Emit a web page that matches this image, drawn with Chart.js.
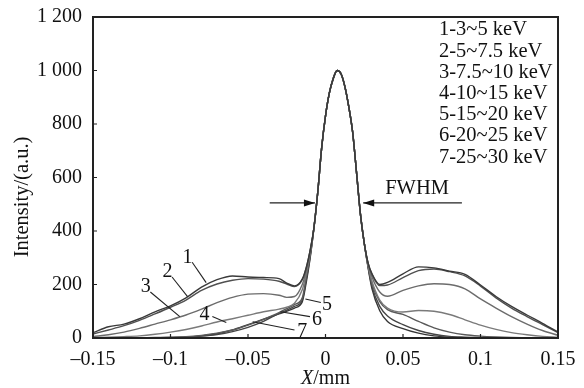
<!DOCTYPE html>
<html>
<head>
<meta charset="utf-8">
<script src="https://cdn.jsdelivr.net/npm/chart.js@4/dist/chart.umd.min.js"></script>
<style>
  html, body { margin: 0; padding: 0; background: #fff; }
  #wrap { width: 584px; height: 388px; }
</style>
</head>
<body>
<div id="wrap"><canvas id="myChart" width="584" height="388"></canvas></div>
<script>
// X positions (mm) shared by every curve
var xValues = [-0.15,-0.14,-0.13,-0.12,-0.11,-0.1,-0.09,-0.08,-0.07,-0.06,-0.05,-0.04,-0.03,-0.025,-0.02,-0.015,-0.0125,-0.01,
  -0.0075,-0.005,-0.0025,0,0.0025,0.005,0.0075,0.01,0.0125,0.015,0.0175,0.02,0.0225,0.025,
  0.0275,0.03,0.035,0.04,0.05,0.06,0.07,0.08,0.09,0.1,0.11,0.12,0.13,0.14,0.15];

// central peak, same for all energies
var peak = [410,545,710,830,916,970,1000,988,940,865,770,620,465,355];

var left1 = [20,42,52,72,98,120,150,190,218,232,228,226,222,205,195,220,262,325];
var right1 = [280,240,200,208,240,266,262,250,238,198,155,118,86,55,22];
var left2 = [15,30,46,66,90,115,142,178,202,216,222,220,212,202,192,218,260,325];
var right2 = [280,238,196,198,226,252,258,248,232,194,150,112,80,50,20];
var left3 = [5,12,22,36,52,68,86,108,132,152,164,166,160,152,155,200,250,320];
var right3 = [276,228,172,156,178,195,203,200,184,146,112,80,52,28,10];
var left4 = [2,3,5,8,14,22,32,45,60,72,85,98,108,115,130,180,240,315];
var right4 = [272,212,142,112,97,103,100,88,68,48,32,20,12,6,3];
var left5 = [0,0,0,1,2,3,5,10,18,30,48,70,95,110,125,150,225,305];
var right5 = [268,202,136,106,88,62,38,22,12,7,4,2,1,0,0];
var left6 = [0,0,0,0,1,2,4,7,13,24,40,62,92,104,118,142,215,300];
var right6 = [265,192,118,82,50,28,14,6,3,1,0,0,0,0,0];
var left7 = [0,0,0,0,0,1,3,8,16,30,50,70,90,100,112,135,205,295];
var right7 = [262,184,102,62,35,18,8,3,1,0,0,0,0,0,0];

var legendLines = ["1-3~5 keV","2-5~7.5 keV","3-7.5~10 keV","4-10~15 keV","5-15~20 keV","6-20~25 keV","7-25~30 keV"];
var xTicks = [-0.15,-0.1,-0.05,0,0.05,0.1,0.15];
var yTicks = [0,200,400,600,800,1000,1200];

var lefts = [left1,left2,left3,left4,left5,left6,left7];
var rights = [right1,right2,right3,right4,right5,right6,right7];
var lineColors = ["#3a3a3a","#505050","#6c6c6c","#7a7a7a","#5a5a5a","#454545","#353535"];

// curve number labels: [text x, text y, leader from x,y, leader to x,y] in data units
var curveLabels = [
  ["1",-0.089,300,-0.086,283,-0.077,207],
  ["2",-0.102,247,-0.099,228,-0.089,155],
  ["3",-0.116,191,-0.113,172,-0.094,80],
  ["4",-0.078,86,-0.073,80,-0.064,58],
  ["5",0.001,123,-0.003,133,-0.013,146],
  ["6",-0.0055,67,-0.01,80,-0.029,98],
  ["7",-0.015,22,-0.02,30,-0.047,61]
];

var serif = "'Liberation Serif', 'DejaVu Serif', serif";

var datasets = lefts.map(function (l, i) {
  var ys = l.concat(peak, rights[i]);
  return {
    data: xValues.map(function (x, j) { return {x: x, y: ys[j]}; }),
    borderColor: lineColors[i],
    borderWidth: 1.4,
    pointRadius: 0,
    cubicInterpolationMode: "monotone",
    fill: false
  };
});

function fmtX(v) {
  var s = String(Number(v.toFixed(2)));
  return s.charAt(0) == "-" ? "\u2013" + s.slice(1) : s;
}
function fmtY(v) {
  return v >= 1000 ? "1 " + String(v).slice(1) : String(v);
}

var extras = {
  id: "extras",
  afterDraw: function (chart) {
    var ctx = chart.ctx, a = chart.chartArea;
    var xs = chart.scales.x, ys = chart.scales.y;
    function px(x) { return xs.getPixelForValue(x); }
    function py(y) { return ys.getPixelForValue(y); }
    ctx.save();
    // frame
    ctx.strokeStyle = "#222";
    ctx.lineWidth = 2;
    ctx.strokeRect(a.left, a.top, a.right - a.left, a.bottom - a.top);
    // inward ticks
    ctx.lineWidth = 1.2;
    ctx.beginPath();
    yTicks.forEach(function (t) {
      ctx.moveTo(a.left, py(t)); ctx.lineTo(a.left + 4, py(t));
    });
    xTicks.forEach(function (t) {
      ctx.moveTo(px(t), a.bottom); ctx.lineTo(px(t), a.bottom - 4);
    });
    ctx.stroke();

    ctx.fillStyle = "#111";
    ctx.font = "20.5px " + serif;
    ctx.textBaseline = "middle";
    ctx.textAlign = "left";
    legendLines.forEach(function (t, i) {
      ctx.fillText(t, 439, 30 + i * 21.2);
    });

    // curve labels
    ctx.font = "20px " + serif;
    ctx.lineWidth = 1.1;
    ctx.strokeStyle = "#222";
    ctx.textAlign = "center";
    curveLabels.forEach(function (c) {
      ctx.fillText(c[0], px(c[1]), py(c[2]));
      ctx.beginPath();
      ctx.moveTo(px(c[3]), py(c[4]));
      ctx.lineTo(px(c[5]), py(c[6]));
      ctx.stroke();
    });

    // FWHM arrows
    var ay = py(505);
    function arrow(x0, x1) {
      ctx.beginPath();
      ctx.moveTo(x0, ay); ctx.lineTo(x1, ay); ctx.stroke();
      var d = x1 > x0 ? -1 : 1;
      ctx.beginPath();
      ctx.moveTo(x1, ay);
      ctx.lineTo(x1 + d * 11, ay - 3.5);
      ctx.lineTo(x1 + d * 11, ay + 3.5);
      ctx.closePath();
      ctx.fill();
    }
    arrow(px(-0.036), px(-0.0068));
    arrow(px(0.088), px(0.0243));
    ctx.textAlign = "left";
    ctx.font = "20.5px " + serif;
    ctx.fillText("FWHM", px(0.0385), py(560));

    // axis titles
    ctx.font = "italic 20px " + serif;
    var w1 = ctx.measureText("X").width;
    ctx.font = "20px " + serif;
    var w2 = ctx.measureText("/mm").width;
    var sx = (a.left + a.right) / 2 - (w1 + w2) / 2;
    ctx.font = "italic 20px " + serif;
    ctx.fillText("X", sx, 379);
    ctx.font = "20px " + serif;
    ctx.fillText("/mm", sx + w1, 379);

    ctx.translate(23, 197);
    ctx.rotate(-Math.PI / 2);
    ctx.textAlign = "center";
    ctx.font = "20.5px " + serif;
    ctx.fillText("Intensity/(a.u.)", 0, 0);
    ctx.restore();
  }
};

new Chart("myChart", {
  type: "line",
  data: { datasets: datasets },
  options: {
    responsive: false,
    animation: false,
    layout: { padding: { top: 17, right: 26, left: 0, bottom: 0 } },
    plugins: { legend: { display: false }, tooltip: { enabled: false } },
    scales: {
      x: {
        type: "linear",
        min: -0.15, max: 0.15,
        afterBuildTicks: function (s) { s.ticks = xTicks.map(function (v) { return {value: v}; }); },
        afterFit: function (s) { s.height = 50; },
        grid: { display: false },
        border: { display: false },
        ticks: {
          color: "#111",
          padding: 2,
          font: { family: serif, size: 20 },
          callback: function (v) { return fmtX(v); }
        }
      },
      y: {
        min: 0, max: 1200,
        afterBuildTicks: function (s) { s.ticks = yTicks.map(function (v) { return {value: v}; }); },
        afterFit: function (s) { s.width = 93; },
        grid: { display: false },
        border: { display: false },
        ticks: {
          color: "#111",
          padding: 3,
          font: { family: serif, size: 20 },
          callback: function (v) { return fmtY(v); }
        }
      }
    }
  },
  plugins: [extras]
});
</script>
</body>
</html>
